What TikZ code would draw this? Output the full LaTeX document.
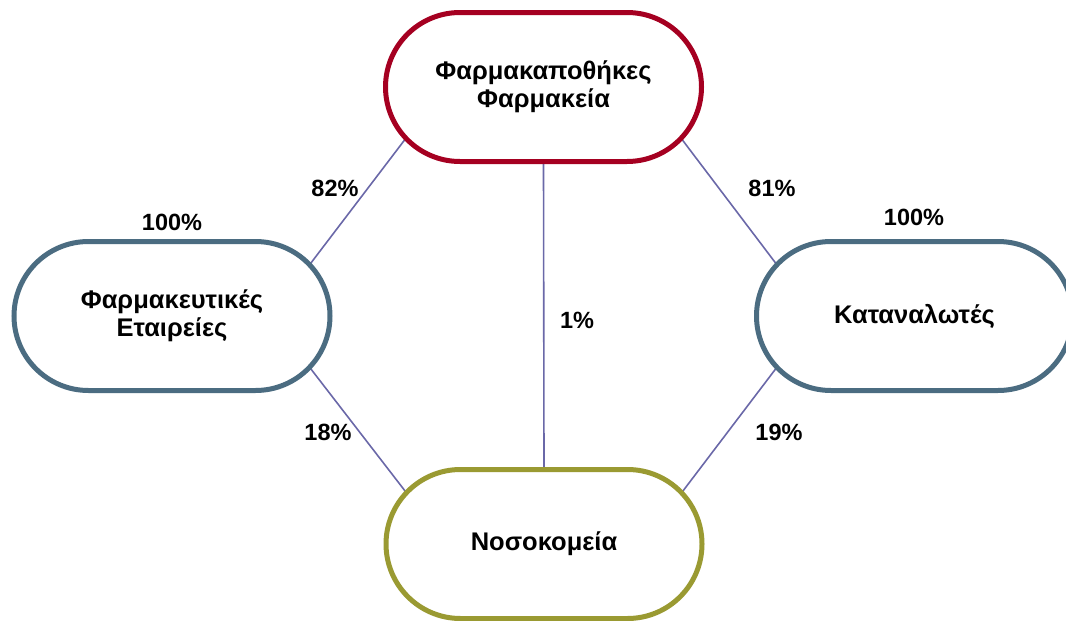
\documentclass[tikz,border=0pt]{standalone}
\usepackage{fontspec}
\setmainfont{Liberation Sans}
\usetikzlibrary{shapes.misc,calc,backgrounds}
\definecolor{storered}{HTML}{A50021}
\definecolor{slateblue}{HTML}{4B6C81}
\definecolor{olivegreen}{HTML}{9A9A32}
\definecolor{linkblue}{HTML}{6A68A8}
\tikzset{
  actor/.style={rounded rectangle, draw, line width=5pt, fill=white,
    minimum width=316pt, minimum height=149pt, inner sep=0pt,
    align=center, font=\fontsize{25.5}{28}\selectfont\bfseries},
  link/.style={draw=linkblue, line width=1.6pt},
  share/.style={font=\fontsize{23.5}{26}\selectfont\bfseries, inner sep=0pt}
}
\begin{document}
\begin{tikzpicture}[x=1pt,y=-1pt]
  \useasboundingbox (0,0) rectangle (1066,621);
  % the four actors of the supply chain
  \node[actor, draw=storered]   (store)    at (543.5,87)  {Φαρμακαποθήκες\\Φαρμακεία};
  \node[actor, draw=slateblue]  (pharma)   at (172,316)   {Φαρμακευτικές\\Εταιρείες};
  \node[actor, draw=slateblue]  (consumer) at (914.5,316) {Καταναλωτές};
  \node[actor, draw=olivegreen] (hospital) at (544,544)   {Νοσοκομεία};
  % connectors, meeting the rounded ends at 45 degrees
  \begin{scope}[on background layer]
    \draw[link] ($(store.west)+(74.5,0)+(135:74.5)$) -- ($(pharma.east)+(-74.5,0)+(-45:74.5)$);
    \draw[link] ($(store.east)+(-74.5,0)+(45:74.5)$) -- ($(consumer.west)+(74.5,0)+(225:74.5)$);
    \draw[link] (store.south) -- (hospital.north);
    \draw[link] ($(pharma.east)+(-74.5,0)+(45:74.5)$) -- ($(hospital.west)+(74.5,0)+(225:74.5)$);
    \draw[link] ($(consumer.west)+(74.5,0)+(135:74.5)$) -- ($(hospital.east)+(-74.5,0)+(-45:74.5)$);
  \end{scope}
  % shares
  \node[share] (s82)  at (335,188) {82\%};
  \node[share] (s81)  at (772,188) {81\%};
  \node[share] (s1)   at (577,320) {1\%};
  \node[share] (s18)  at (328,432) {18\%};
  \node[share] (s19)  at (779,432) {19\%};
  \node[share] (p100) at (172,222) {100\%};
  \node[share] (c100) at (914,217) {100\%};
\end{tikzpicture}
\end{document}
